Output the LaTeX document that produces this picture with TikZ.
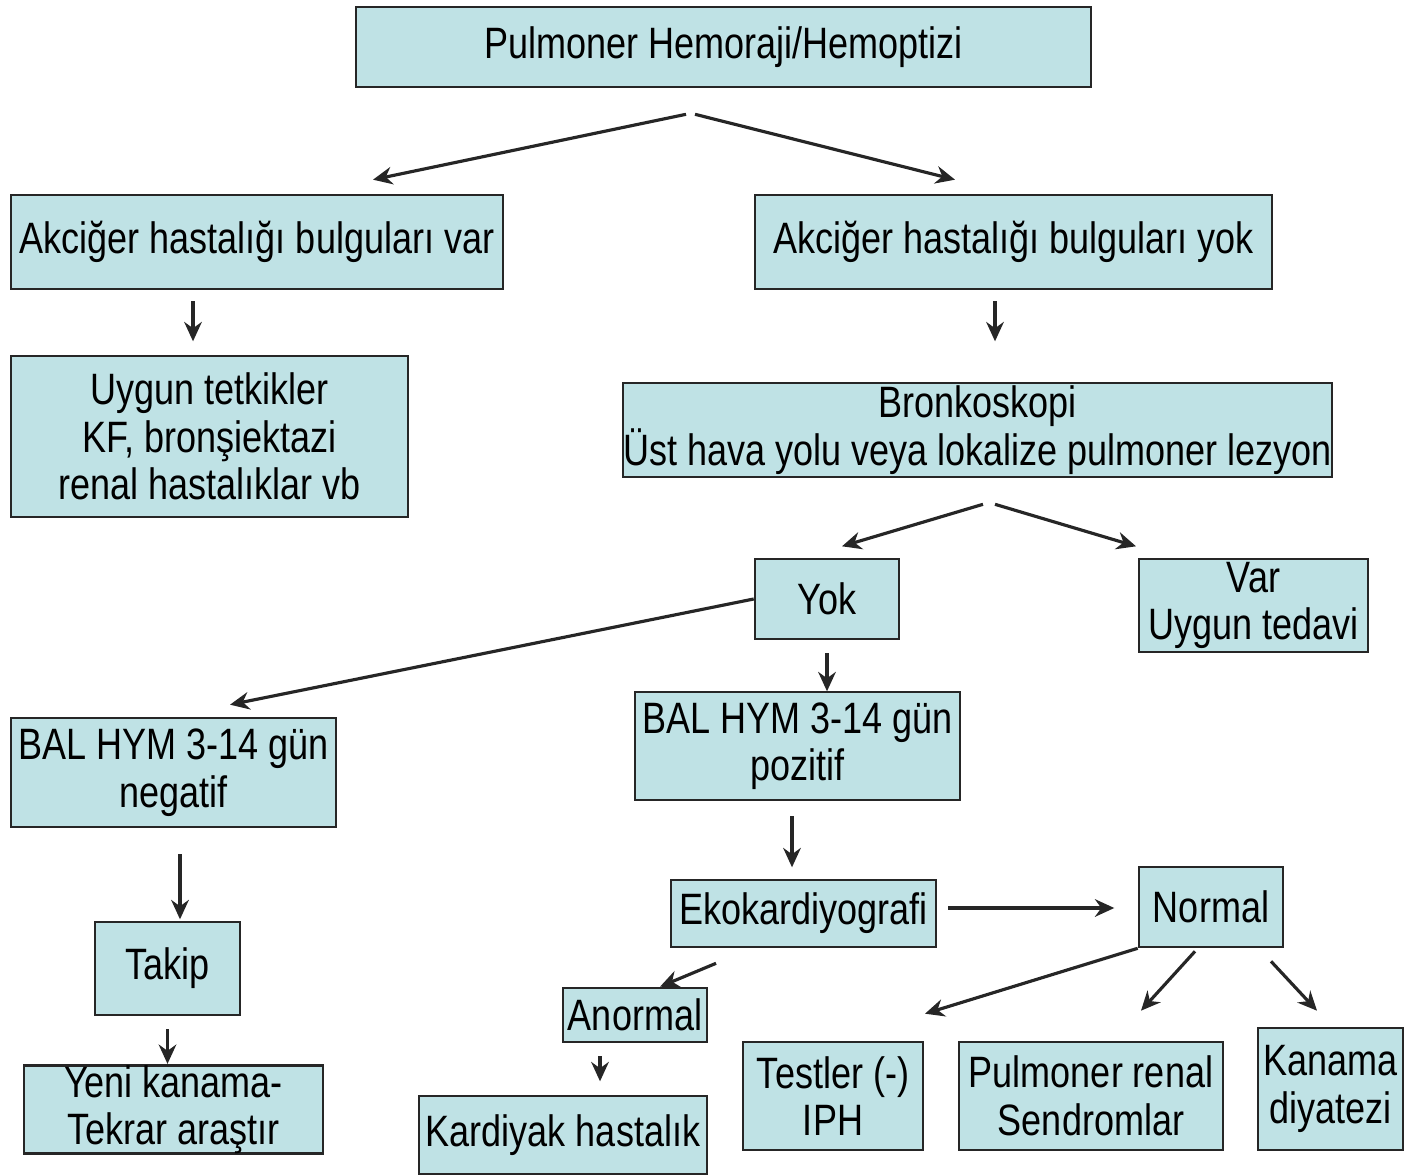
\documentclass[tikz,border=0pt]{standalone}
\usepackage{fontspec}
\setmainfont{Liberation Sans}[FakeStretch=0.82]
\usetikzlibrary{arrows.meta}
\definecolor{kutuRenk}{RGB}{191,226,229}

\begin{document}
\begin{tikzpicture}[>={Stealth[length=11pt,width=10pt]}, x=0.02cm, y=-0.02cm,
	kutu/.style={draw=black!85, line width=1.5pt, fill=kutuRenk, inner sep=0pt, align=center, font=\fontsize{25}{27}\selectfont},
	ok/.style={->, line width=1.8pt, black!85}]
		\useasboundingbox (0,0) rectangle (1419,1175);
		
		\node[kutu, minimum width=14.7cm, minimum height=1.6cm] (hemo) at (723.5,47) {Pulmoner Hemoraji/Hemoptizi};
		\node[kutu, minimum width=9.84cm, minimum height=1.88cm] (var) at (257,242) {Akciğer hastalığı bulguları var};
		\node[kutu, minimum width=10.34cm, minimum height=1.88cm] (yok) at (1013.5,242) {Akciğer hastalığı bulguları yok};
		\node[kutu, minimum width=7.94cm, minimum height=3.22cm] (tetkik) at (209.5,436.5) {Uygun tetkikler\\KF, bronşiektazi\\renal hastalıklar vb};
		\node[kutu, minimum width=14.18cm, minimum height=1.88cm] (bronko) at (977.5,430) {Bronkoskopi\\Üst hava yolu veya lokalize pulmoner lezyon};
		
		\node[kutu, minimum width=2.88cm, minimum height=1.6cm] (lezyonyok) at (827,599) {Yok};
		\node[kutu, minimum width=4.58cm, minimum height=1.86cm] (lezyonvar) at (1253.5,605.5) {Var\\Uygun tedavi};
		\node[kutu, minimum width=6.5cm, minimum height=2.18cm] (balneg) at (173.5,772.5) {BAL HYM 3-14 gün\\negatif};
		\node[kutu, minimum width=6.5cm, minimum height=2.16cm] (balpoz) at (797.5,746) {BAL HYM 3-14 gün\\pozitif};
		
		\node[kutu, minimum width=2.9cm, minimum height=1.86cm] (takip) at (167.5,968.5) {Takip};
		\node[kutu, minimum width=5.98cm, minimum height=1.62cm] (yeni) at (173.5,1109.5) {Yeni kanama-\\Tekrar araştır};
		\node[kutu, minimum width=5.3cm, minimum height=1.34cm] (eko) at (803.5,913.5) {Ekokardiyografi};
		\node[kutu, minimum width=2.88cm, minimum height=1.6cm] (normal) at (1211,907) {Normal};
		\node[kutu, minimum width=2.88cm, minimum height=1.08cm] (anormal) at (635,1015) {Anormal};
		\node[kutu, minimum width=5.76cm, minimum height=1.56cm] (kardiyak) at (563,1135) {Kardiyak hastalık};
		\node[kutu, minimum width=3.6cm, minimum height=2.16cm] (testler) at (833,1096) {Testler (-)\\IPH};
		\node[kutu, minimum width=5.28cm, minimum height=2.16cm] (prenal) at (1091,1096) {Pulmoner renal\\Sendromlar};
		\node[kutu, minimum width=2.9cm, minimum height=2.44cm] (kanama) at (1330.5,1089) {Kanama\\diyatezi};
		
		\draw[ok] ([xshift=-0.75cm,yshift=-0.52cm]hemo.south) -- ([xshift=2.32cm,yshift=0.28cm]var.north);
		\draw[ok] ([xshift=-0.57cm,yshift=-0.52cm]hemo.south) -- ([xshift=-1.17cm,yshift=0.28cm]yok.north);
		\draw[ok] ([xshift=-1.28cm,yshift=-0.22cm]var.south) -- ++(0,40);
		\draw[ok] ([xshift=-0.37cm,yshift=-0.22cm]yok.south) -- ++(0,40);
		\draw[ok] ([xshift=0.11cm,yshift=-0.52cm]bronko.south) -- ++(-141,42);
		\draw[ok] ([xshift=0.35cm,yshift=-0.52cm]bronko.south) -- ++(141,42);
		
		\draw[ok] (lezyonyok.west) -- ([xshift=1.13cm,yshift=0.24cm]balneg.north);
		\draw[ok] ([yshift=-0.26cm]lezyonyok.south) -- ++(0,38);
		\draw[ok] ([xshift=0.13cm,yshift=-0.52cm]balneg.south) -- ++(0,65);
		\draw[ok] ([yshift=-0.26cm]takip.south) -- (takip.south |- yeni.north);
		\draw[ok] ([xshift=-0.11cm,yshift=-0.3cm]balpoz.south) -- ++(0,51);
		
		\draw[ok] ([xshift=0.22cm,yshift=0.11cm]eko.east) -- ++(166,0);
		\draw[ok] ([xshift=-1.75cm,yshift=-0.3cm]eko.south) -- ([xshift=0.5cm]anormal.north);
		\draw[ok] ([xshift=-0.7cm,yshift=-0.26cm]anormal.south) -- ++(0,25);
		\draw[ok] (normal.south west) -- ([xshift=1.84cm,yshift=0.54cm]testler.north);
		\draw[ok] ([xshift=-0.32cm,yshift=-0.06cm]normal.south) -- ([xshift=1cm,yshift=0.6cm]prenal.north);
		\draw[ok] ([xshift=1.2cm,yshift=-0.26cm]normal.south) -- ([xshift=-0.27cm,yshift=0.32cm]kanama.north);
	\end{tikzpicture}
\end{document}
